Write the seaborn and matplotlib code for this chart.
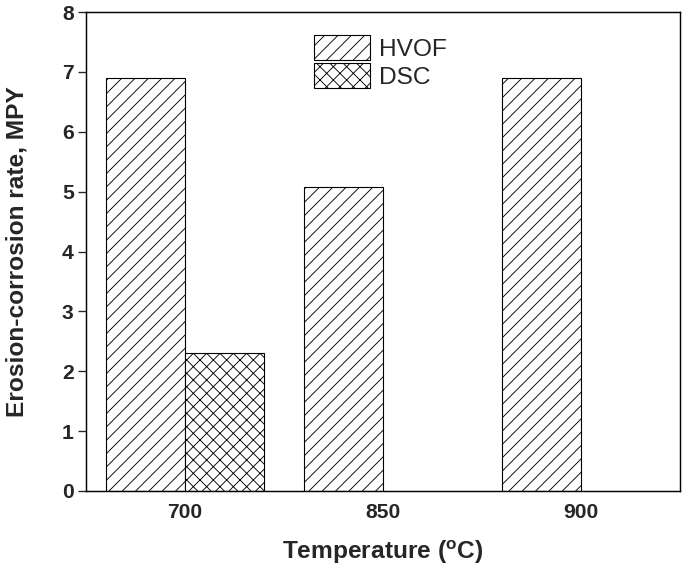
import numpy as np
import pandas as pd
import seaborn as sns
import matplotlib.pyplot as plt

# data
temperatures = ['700', '850', '900']
hvof_rate = [6.9, 5.07, 6.9]
dsc_rate = [2.3, np.nan, np.nan]
coatings = ['HVOF', 'DSC']
hatches = ['//', 'xx']

df = pd.DataFrame({
    'Temperature': temperatures * 2,
    'Rate': hvof_rate + dsc_rate,
    'Coating': ['HVOF'] * 3 + ['DSC'] * 3,
})

sns.set_style('ticks')
plt.rcParams['font.family'] = ['Liberation Sans', 'DejaVu Sans']
plt.rcParams['mathtext.fontset'] = 'custom'
plt.rcParams['mathtext.rm'] = 'Liberation Sans'
plt.rcParams['mathtext.bf'] = 'Liberation Sans:bold'
plt.rcParams['hatch.linewidth'] = 0.8

dpi = 80
fig = plt.figure(figsize=(685 / dpi, 566 / dpi), dpi=dpi)
ax = fig.add_axes([86 / 685, 1 - 491 / 566, 594 / 685, 479 / 566])

sns.barplot(data=df, x='Temperature', y='Rate', hue='Coating', hue_order=coatings,
            palette=['white', 'white'], edgecolor='black', linewidth=1.0,
            errorbar=None, width=0.8, legend=False, ax=ax)

for cont, h in zip(ax.containers, hatches):
    for bar in cont:
        bar.set_hatch(h)

ax.set_xlim(-0.5, 2.5)
ax.set_ylim(0, 8)
ax.set_yticks(range(0, 9))

for sp in ax.spines.values():
    sp.set_visible(True)
    sp.set_linewidth(1.3)
    sp.set_color('black')

ax.tick_params(axis='y', direction='out', length=7, width=1.2, labelsize=19, pad=4)
ax.tick_params(axis='x', length=0, labelsize=19, pad=11)
for lab in ax.get_xticklabels() + ax.get_yticklabels():
    lab.set_fontweight('bold')

ax.set_xlabel(r'Temperature ($^{\mathbf{o}}$C)', fontsize=22, fontweight='bold', labelpad=14)
ax.set_ylabel('Erosion-corrosion rate, MPY', fontsize=22, fontweight='bold', labelpad=30)

ax.legend(ax.containers, coatings, loc='upper left', bbox_to_anchor=(0.384, 0.952),
          frameon=False, fontsize=22, handlelength=2.3, handleheight=1.2,
          handletextpad=0.35, labelspacing=0.1, borderpad=0, borderaxespad=0)

fig.savefig('out.png', dpi=dpi)
